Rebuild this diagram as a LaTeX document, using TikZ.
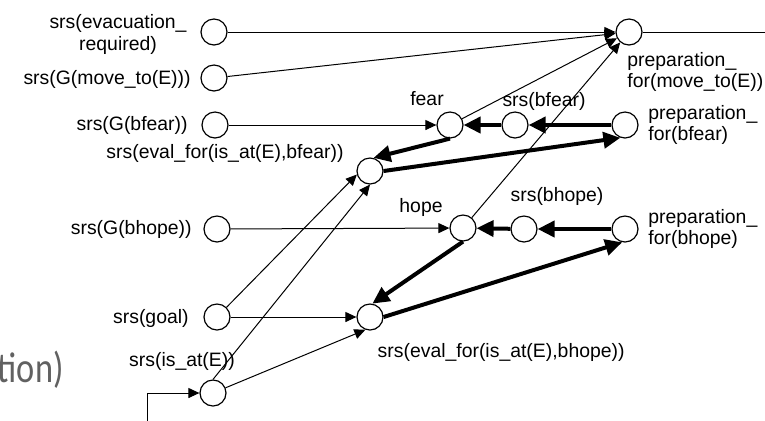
\documentclass[tikz,border=0pt]{standalone}
\usepackage{fontspec}
\setmainfont{Liberation Sans}
\newfontfamily\grayfont[FakeStretch=0.8]{Carlito}
\usetikzlibrary{arrows.meta}
\begin{document}
\begin{tikzpicture}[x=0.5pt,y=-0.5pt,
  st/.style={circle,draw,line width=0.6pt,minimum size=13pt,inner sep=0pt,fill=white},
  lbl/.style={inner sep=0pt,font=\fontsize{9.7}{10.8}\selectfont},
  sarrow/.style={line width=0.5pt,-{Triangle[length=5.5pt,width=5pt]}},
  tarrow/.style={line width=2pt,-{Triangle[length=8.5pt,width=8pt]}},
  plainline/.style={line width=0.5pt}]
\useasboundingbox (0,0) rectangle (765,420);
% states
\node[st] (evac) at (214,32) {};
\node[st] (moveG) at (214,78) {};
\node[st] (bfearG) at (215,125) {};
\node[st] (bhopeG) at (217,229) {};
\node[st] (goal) at (217,317) {};
\node[st] (isat) at (213,393) {};
\node[st] (evalfear) at (370,171) {};
\node[st] (evalhope) at (370,317) {};
\node[st] (fear) at (450,125) {};
\node[st] (hope) at (463,228) {};
\node[st] (sbfear) at (515,125) {};
\node[st] (sbhope) at (524,229) {};
\node[st] (prepfear) at (625,125) {};
\node[st] (prepbhope) at (625,229) {};
\node[st] (prepmove) at (629,32) {};
% free ends
\coordinate (outR) at (765,32);
\coordinate (inB) at (147,425);
% thin connectors
\draw[sarrow] (evac) -- (prepmove);
\draw[plainline] (prepmove) -- (outR);
\draw[sarrow] (moveG) -- (prepmove);
\draw[sarrow] (fear) -- (prepmove);
\draw[sarrow] (hope) -- (prepmove);
\draw[sarrow] (bfearG) -- (fear);
\draw[sarrow] (bhopeG) -- (hope);
\draw[sarrow] (goal) -- (evalhope);
\draw[sarrow] (goal) -- (evalfear.195);
\draw[sarrow] (isat.north) -- (evalfear.south);
\draw[sarrow] (isat) -- (evalhope.250);
\draw[sarrow] (inB) |- (isat);
% thick connectors
\draw[tarrow] (prepfear) -- (sbfear);
\draw[tarrow] (sbfear) -- (fear);
\draw[tarrow] (fear.south) -- (evalfear.75);
\draw[tarrow] (evalfear.east) -- (prepfear.250);
\draw[tarrow] (prepbhope) -- (sbhope);
\draw[tarrow] (sbhope) -- (hope);
\draw[tarrow] (hope.south) -- (evalhope.80);
\draw[tarrow] (evalhope.east) -- (prepbhope.258);
% labels
\node[lbl,align=center] (evacL) at (118,34.5) {srs(evacuation\_\\required)};
\node[lbl,anchor=east] (moveGL) at (191,79) {srs(G(move\_to(E)))};
\node[lbl,anchor=east] (bfearGL) at (188,125) {srs(G(bfear))};
\node[lbl,anchor=east] (evalfearL) at (344,153) {srs(eval\_for(is\_at(E),bfear))};
\node[lbl] (fearL) at (427,99) {fear};
\node[lbl] (sbfearL) at (544,101) {srs(bfear)};
\node[lbl,anchor=west,align=left] (prepmoveL) at (627,72) {preparation\_\\for(move\_to(E))};
\node[lbl,anchor=west,align=left] (prepfearL) at (648,125) {preparation\_\\for(bfear)};
\node[lbl] (hopeL) at (421,207) {hope};
\node[lbl] (sbhopeL) at (557,196) {srs(bhope)};
\node[lbl,anchor=west,align=left] (prepbhopeL) at (648,229) {preparation\_\\for(bhope)};
\node[lbl,anchor=east] (evalhopeL) at (625,352) {srs(eval\_for(is\_at(E),bhope))};
\node[lbl,anchor=east] (goalL) at (189,318) {srs(goal)};
\node[lbl] (isatL) at (182,361) {srs(is\_at(E))};
\node[lbl,anchor=east] (bhopeGL) at (192,229) {srs(G(bhope))};
\node[inner sep=0pt,anchor=east,text=black!62,font=\grayfont\fontsize{21.5}{24}\selectfont] (tionL) at (64,370) {tion)};
\end{tikzpicture}
\end{document}
